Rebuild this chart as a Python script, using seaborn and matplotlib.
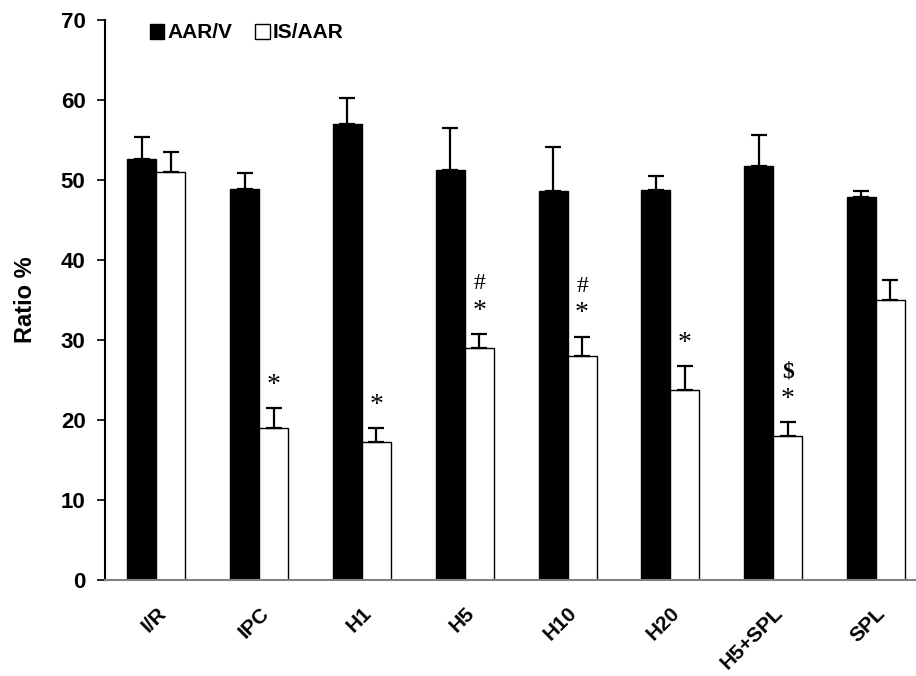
import numpy as np
import pandas as pd
import matplotlib
matplotlib.use('Agg')
import matplotlib.pyplot as plt
import seaborn as sns
from matplotlib.patches import Patch

# Values
groups = ['I/R', 'IPC', 'H1', 'H5', 'H10', 'H20', 'H5+SPL', 'SPL']
aar_v = [52.6, 48.9, 57.0, 51.2, 48.6, 48.8, 51.8, 47.9]
aar_v_err = [2.8, 2.0, 3.2, 5.3, 5.5, 1.7, 3.8, 0.7]
is_aar = [51.0, 19.0, 17.2, 29.0, 28.0, 23.8, 18.0, 35.0]
is_aar_err = [2.5, 2.5, 1.8, 1.7, 2.4, 2.9, 1.7, 2.5]
# significance marks above IS/AAR bars
star_marks = ['', '*', '*', '*', '*', '*', '*', '']
upper_marks = ['', '', '', '#', '#', '', '$', '']

sns.set_style('white')
plt.rcParams['font.family'] = ['Liberation Sans', 'DejaVu Sans']
plt.rcParams['text.color'] = 'black'
plt.rcParams['axes.labelcolor'] = 'black'
plt.rcParams['xtick.color'] = 'black'
plt.rcParams['ytick.color'] = 'black'

df = pd.DataFrame({
    'group': groups * 2,
    'series': ['AAR/V'] * len(groups) + ['IS/AAR'] * len(groups),
    'value': aar_v + is_aar,
})

fig = plt.figure(figsize=(9.16, 6.76), dpi=100)
ax = fig.add_axes([105 / 916, 96 / 676, 1 - 105 / 916, 560 / 676])

sns.barplot(data=df, x='group', y='value', hue='series', order=groups,
            hue_order=['AAR/V', 'IS/AAR'], palette=['black', 'white'],
            width=0.565, edgecolor='black', linewidth=1.0, errorbar=None,
            legend=False, ax=ax)

# upper-only error bars
for cont, vals, errs in zip(ax.containers, [aar_v, is_aar], [aar_v_err, is_aar_err]):
    xs = [b.get_x() + b.get_width() / 2 for b in cont]
    ax.errorbar(xs, vals, yerr=[np.zeros(len(vals)), errs], fmt='none',
                ecolor='black', elinewidth=1.6, capsize=5.5, capthick=1.6)

# significance marks
white_bars = ax.containers[1]
for b, v, e, s, u in zip(white_bars, is_aar, is_aar_err, star_marks, upper_marks):
    xc = b.get_x() + b.get_width() / 2
    if s:
        ax.text(xc, v + e + 1.3, s, ha='center', va='bottom', fontsize=20,
                family=['Liberation Serif'])
    if u:
        ax.text(xc, v + e + 5.0, u, ha='center', va='bottom', fontsize=17,
                family=['Liberation Serif'],
                fontweight='bold' if u == '$' else 'normal')

ax.set_ylim(0, 70)
ax.set_xlim(-0.5, 7.39)
ax.set_yticks(range(0, 71, 10))
ax.set_xlabel('')
ax.set_ylabel('Ratio %', fontsize=17, fontweight='bold')
ax.yaxis.set_label_coords(-0.084, 0.5)
ax.tick_params(axis='y', direction='out', length=6, width=1.2, left=True,
               labelsize=16, pad=8)
ax.tick_params(axis='x', length=0, labelsize=15, pad=17)
for lab in ax.get_yticklabels():
    lab.set_fontweight('bold')
for lab in ax.get_xticklabels():
    lab.set_fontweight('bold')
    lab.set_rotation(45)
    lab.set_ha('right')
    lab.set_rotation_mode('anchor')

sns.despine(ax=ax, top=True, right=True)
ax.spines['left'].set_color('black')
ax.spines['left'].set_linewidth(1.5)
ax.spines['bottom'].set_color('#808080')
ax.spines['bottom'].set_linewidth(1.5)

handles = [Patch(facecolor='black', edgecolor='black', label='AAR/V'),
           Patch(facecolor='white', edgecolor='black', label='IS/AAR')]
leg = fig.legend(handles=handles, loc='center left', bbox_to_anchor=(131 / 916, 1 - 33 / 676),
                 ncol=2, frameon=False, handlelength=0.7, handleheight=0.7,
                 handletextpad=0.15, columnspacing=1.1,
                 prop={'weight': 'bold', 'size': 15})

fig.savefig('out.png', dpi=100)
